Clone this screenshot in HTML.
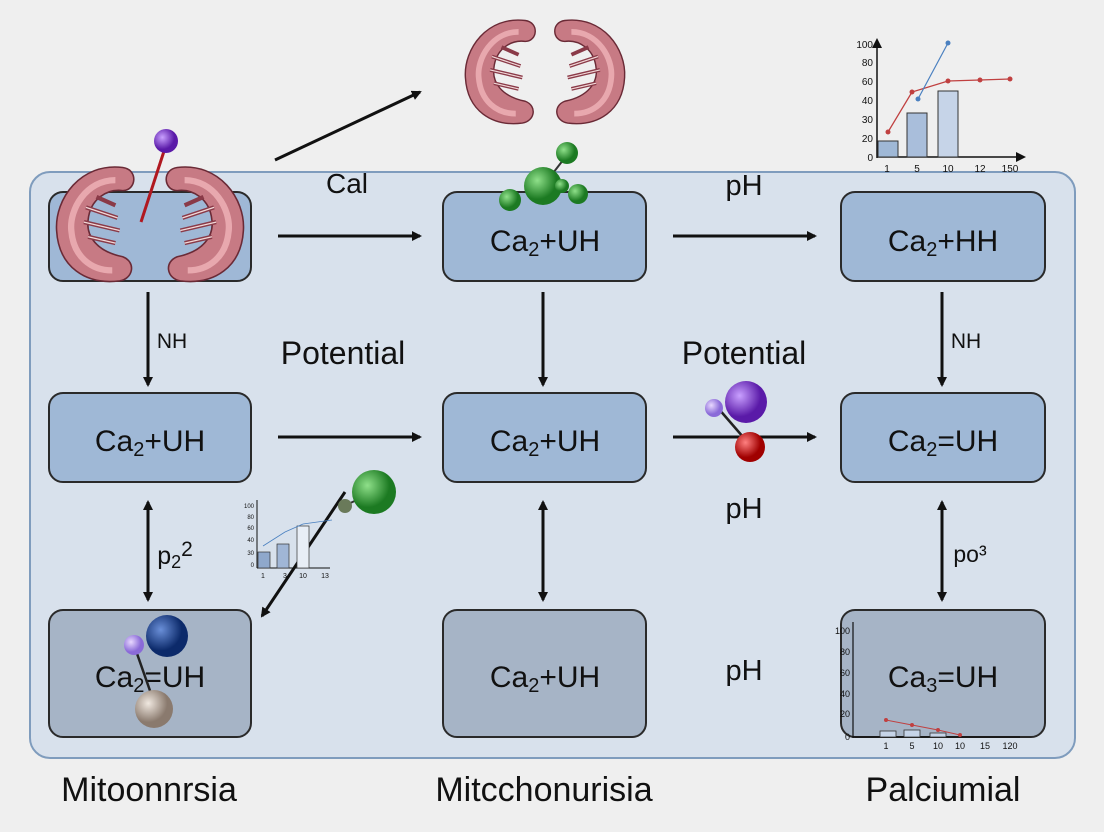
<!DOCTYPE html>
<html><head><meta charset="utf-8"><style>
html,body{margin:0;padding:0;background:#efefef}
svg{display:block}
text{font-family:"Liberation Sans",sans-serif;fill:#111}
</style></head><body>
<svg width="1104" height="832" viewBox="0 0 1104 832">
<defs>
<marker id="ah" markerWidth="10" markerHeight="10" refX="8" refY="5" orient="auto-start-reverse" markerUnits="userSpaceOnUse"><path d="M0,0 L10,5 L0,10 z" fill="#111"/></marker>
<radialGradient id="gp" cx="35%" cy="35%"><stop offset="0" stop-color="#c9a0ff"/><stop offset="1" stop-color="#5a1aa8"/></radialGradient>
<radialGradient id="gg" cx="35%" cy="35%"><stop offset="0" stop-color="#8fe08a"/><stop offset="1" stop-color="#1c7a22"/></radialGradient>
<radialGradient id="gb" cx="35%" cy="35%"><stop offset="0" stop-color="#6a8fd8"/><stop offset="1" stop-color="#0c2a6a"/></radialGradient>
<radialGradient id="gr" cx="35%" cy="35%"><stop offset="0" stop-color="#ff8080"/><stop offset="1" stop-color="#a00000"/></radialGradient>
<radialGradient id="gw" cx="35%" cy="35%"><stop offset="0" stop-color="#f0e8e0"/><stop offset="1" stop-color="#8a7a6e"/></radialGradient>
<radialGradient id="gl" cx="35%" cy="35%"><stop offset="0" stop-color="#e8d8ff"/><stop offset="1" stop-color="#8a6ad8"/></radialGradient>
<g id="kid">
<path d="M-5,-50 C-45,-55 -70,-20 -68,10 C-66,45 -40,62 -8,58 C5,56 8,40 -5,35 C-30,30 -40,15 -38,0 C-36,-20 -20,-30 -5,-28 C8,-28 10,-48 -5,-50 z" fill="#c77a84" stroke="#6a2a36" stroke-width="1.5"/>
<path d="M-12,-38 C-40,-38 -56,-10 -54,10 C-52,35 -35,48 -15,48" fill="none" stroke="#e8a8ae" stroke-width="6"/>
<path d="M-40,-12 L-10,-2 M-42,2 L-8,10 M-38,16 L-12,22 M-30,-22 L-12,-14" stroke="#8a3a48" stroke-width="4"/>
<path d="M-40,-12 L-10,-2 M-42,2 L-8,10 M-38,16 L-12,22" stroke="#f2d8d8" stroke-width="1.2"/>
</g>
</defs>

<rect x="30" y="172" width="1045" height="586" rx="20" fill="#d8e1ec" stroke="#7f9cbd" stroke-width="2"/>

<g stroke="#2a2a2a" stroke-width="2">
<rect x="49" y="192" width="202" height="89" rx="14" fill="#9fb8d6"/>
<rect x="443" y="192" width="203" height="89" rx="14" fill="#9fb8d6"/>
<rect x="841" y="192" width="204" height="89" rx="14" fill="#9fb8d6"/>
<rect x="49" y="393" width="202" height="89" rx="14" fill="#9fb8d6"/>
<rect x="443" y="393" width="203" height="89" rx="14" fill="#9fb8d6"/>
<rect x="841" y="393" width="204" height="89" rx="14" fill="#9fb8d6"/>
<rect x="49" y="610" width="202" height="127" rx="14" fill="#a6b4c6"/>
<rect x="443" y="610" width="203" height="127" rx="14" fill="#a6b4c6"/>
<rect x="841" y="610" width="204" height="127" rx="14" fill="#a6b4c6"/>
</g>

<g stroke="#111" stroke-width="3" fill="none" marker-end="url(#ah)">
<line x1="275" y1="160" x2="420" y2="92"/>
<line x1="278" y1="236" x2="420" y2="236"/>
<line x1="673" y1="236" x2="815" y2="236"/>
<line x1="278" y1="437" x2="420" y2="437"/>
<line x1="673" y1="437" x2="815" y2="437"/>
<line x1="148" y1="292" x2="148" y2="385"/>
<line x1="543" y1="292" x2="543" y2="385"/>
<line x1="942" y1="292" x2="942" y2="385"/>
<line x1="148" y1="502" x2="148" y2="600" marker-start="url(#ah)"/>
<line x1="543" y1="502" x2="543" y2="600" marker-start="url(#ah)"/>
<line x1="942" y1="502" x2="942" y2="600" marker-start="url(#ah)"/>
<line x1="345" y1="492" x2="262" y2="616"/>
</g>

<g font-size="30" text-anchor="middle">
<text x="545" y="251">Ca<tspan font-size="20" dy="5">2</tspan><tspan dy="-5">+UH</tspan></text>
<text x="943" y="251">Ca<tspan font-size="20" dy="5">2</tspan><tspan dy="-5">+HH</tspan></text>
<text x="150" y="451">Ca<tspan font-size="20" dy="5">2</tspan><tspan dy="-5">+UH</tspan></text>
<text x="545" y="451">Ca<tspan font-size="20" dy="5">2</tspan><tspan dy="-5">+UH</tspan></text>
<text x="943" y="451">Ca<tspan font-size="20" dy="5">2</tspan><tspan dy="-5">=UH</tspan></text>
<text x="150" y="687">Ca<tspan font-size="20" dy="5">2</tspan><tspan dy="-5">=UH</tspan></text>
<text x="545" y="687">Ca<tspan font-size="20" dy="5">2</tspan><tspan dy="-5">+UH</tspan></text>
<text x="943" y="687">Ca<tspan font-size="20" dy="5">3</tspan><tspan dy="-5">=UH</tspan></text>
</g>

<g text-anchor="middle">
<text x="347" y="193" font-size="28">Cal</text>
<text x="744" y="195" font-size="29">pH</text>
<text x="172" y="348" font-size="21">NH</text>
<text x="966" y="348" font-size="21">NH</text>
<text x="343" y="364" font-size="32">Potential</text>
<text x="744" y="364" font-size="32">Potential</text>
<text x="744" y="518" font-size="29">pH</text>
<text x="744" y="680" font-size="29">pH</text>
<text x="175" y="564" font-size="25">p<tspan font-size="18" dy="4">2</tspan><tspan dy="-12" font-size="21">2</tspan></text>
<text x="970" y="562" font-size="23">po³</text>
<text x="149" y="801" font-size="34">Mitoonnrsia</text>
<text x="544" y="801" font-size="34">Mitcchonurisia</text>
<text x="943" y="801" font-size="34">Palciumial</text>
</g>

<use href="#kid" transform="translate(128,220) scale(1.05)"/>
<use href="#kid" transform="translate(172,220) scale(-1.05,1.05)"/>
<line x1="166" y1="145" x2="141" y2="222" stroke="#b01820" stroke-width="3"/>
<circle cx="166" cy="141" r="12" fill="url(#gp)"/>
<use href="#kid" transform="translate(530,68) scale(0.95)"/>
<use href="#kid" transform="translate(560,68) scale(-0.95,0.95)"/>

<line x1="543" y1="186" x2="567" y2="155" stroke="#333" stroke-width="2"/>
<circle cx="510" cy="200" r="11" fill="url(#gg)"/>
<circle cx="578" cy="194" r="10" fill="url(#gg)"/>
<circle cx="543" cy="186" r="19" fill="url(#gg)"/>
<circle cx="567" cy="153" r="11" fill="url(#gg)"/>
<circle cx="562" cy="186" r="7" fill="url(#gg)"/>

<line x1="718" y1="408" x2="750" y2="445" stroke="#222" stroke-width="2.5"/>
<circle cx="746" cy="402" r="21" fill="url(#gp)"/>
<circle cx="714" cy="408" r="9" fill="url(#gl)"/>
<circle cx="750" cy="447" r="15" fill="url(#gr)"/>

<line x1="346" y1="505" x2="372" y2="493" stroke="#333" stroke-width="2"/>
<circle cx="374" cy="492" r="22" fill="url(#gg)"/>
<circle cx="345" cy="506" r="7" fill="#6a7a5a"/>

<line x1="134" y1="645" x2="155" y2="705" stroke="#222" stroke-width="2.5"/>
<circle cx="167" cy="636" r="21" fill="url(#gb)"/>
<circle cx="134" cy="645" r="10" fill="url(#gl)"/>
<circle cx="154" cy="709" r="19" fill="url(#gw)"/>

<g font-size="10" stroke="none">
<line x1="877" y1="158" x2="877" y2="40" stroke="#111" stroke-width="1.5" marker-end="url(#ah)"/>
<line x1="877" y1="157" x2="1024" y2="157" stroke="#111" stroke-width="1.5" marker-end="url(#ah)"/>
<g text-anchor="end"><text x="873" y="48">100</text><text x="873" y="66">80</text><text x="873" y="85">60</text><text x="873" y="104">40</text><text x="873" y="123">30</text><text x="873" y="142">20</text><text x="873" y="161">0</text></g>
<g text-anchor="middle"><text x="887" y="172">1</text><text x="917" y="172">5</text><text x="948" y="172">10</text><text x="980" y="172">12</text><text x="1010" y="172">150</text></g>
<rect x="878" y="141" width="20" height="16" fill="#9fb8d6" stroke="#333"/>
<rect x="907" y="113" width="20" height="44" fill="#a9bedb" stroke="#333"/>
<rect x="938" y="91" width="20" height="66" fill="#c6d4e8" stroke="#333"/>
<polyline points="888,132 912,92 948,81 980,80 1010,79" fill="none" stroke="#c04040" stroke-width="1.3"/>
<g fill="#c04040"><circle cx="888" cy="132" r="2.5"/><circle cx="912" cy="92" r="2.5"/><circle cx="948" cy="81" r="2.5"/><circle cx="980" cy="80" r="2.5"/><circle cx="1010" cy="79" r="2.5"/></g>
<line x1="918" y1="99" x2="948" y2="43" stroke="#4a80c0" stroke-width="1.2"/>
<circle cx="918" cy="99" r="2.5" fill="#4a80c0"/><circle cx="948" cy="43" r="2.5" fill="#4a80c0"/>
</g>

<g font-size="6">
<line x1="257" y1="568" x2="257" y2="500" stroke="#111"/>
<line x1="257" y1="568" x2="330" y2="568" stroke="#111"/>
<g text-anchor="end"><text x="254" y="508">100</text><text x="254" y="519">80</text><text x="254" y="530">60</text><text x="254" y="542">40</text><text x="254" y="555">30</text><text x="254" y="567">0</text></g>
<g text-anchor="middle" font-size="7"><text x="263" y="578">1</text><text x="285" y="578">3</text><text x="303" y="578">10</text><text x="325" y="578">13</text></g>
<rect x="258" y="552" width="12" height="16" fill="#8fa8cc" stroke="#333" stroke-width="0.7"/>
<rect x="277" y="544" width="12" height="24" fill="#a0b6d6" stroke="#333" stroke-width="0.7"/>
<rect x="297" y="526" width="12" height="42" fill="#e8eef6" stroke="#333" stroke-width="0.7"/>
<polyline points="263,546 285,532 303,524 332,520" fill="none" stroke="#4a80c0" stroke-width="0.8"/>
</g>

<g font-size="9">
<line x1="853" y1="738" x2="853" y2="622" stroke="#111" stroke-width="1.2"/>
<line x1="853" y1="737" x2="1020" y2="737" stroke="#111" stroke-width="1.2"/>
<g text-anchor="end"><text x="850" y="634">100</text><text x="850" y="655">80</text><text x="850" y="676">60</text><text x="850" y="697">40</text><text x="850" y="717">20</text><text x="850" y="740">0</text></g>
<g text-anchor="middle"><text x="886" y="749">1</text><text x="912" y="749">5</text><text x="938" y="749">10</text><text x="960" y="749">10</text><text x="985" y="749">15</text><text x="1010" y="749">120</text></g>
<rect x="880" y="731" width="16" height="6" fill="#c6d4e8" stroke="#333" stroke-width="0.8"/>
<rect x="904" y="730" width="16" height="7" fill="#c6d4e8" stroke="#333" stroke-width="0.8"/>
<rect x="930" y="733" width="16" height="4" fill="#c6d4e8" stroke="#333" stroke-width="0.8"/>
<polyline points="886,720 912,725 938,730 960,735" fill="none" stroke="#c04040" stroke-width="1"/>
<g fill="#c04040"><circle cx="886" cy="720" r="2"/><circle cx="912" cy="725" r="2"/><circle cx="938" cy="730" r="2"/><circle cx="960" cy="735" r="2"/></g>
</g>
</svg>
</body></html>
